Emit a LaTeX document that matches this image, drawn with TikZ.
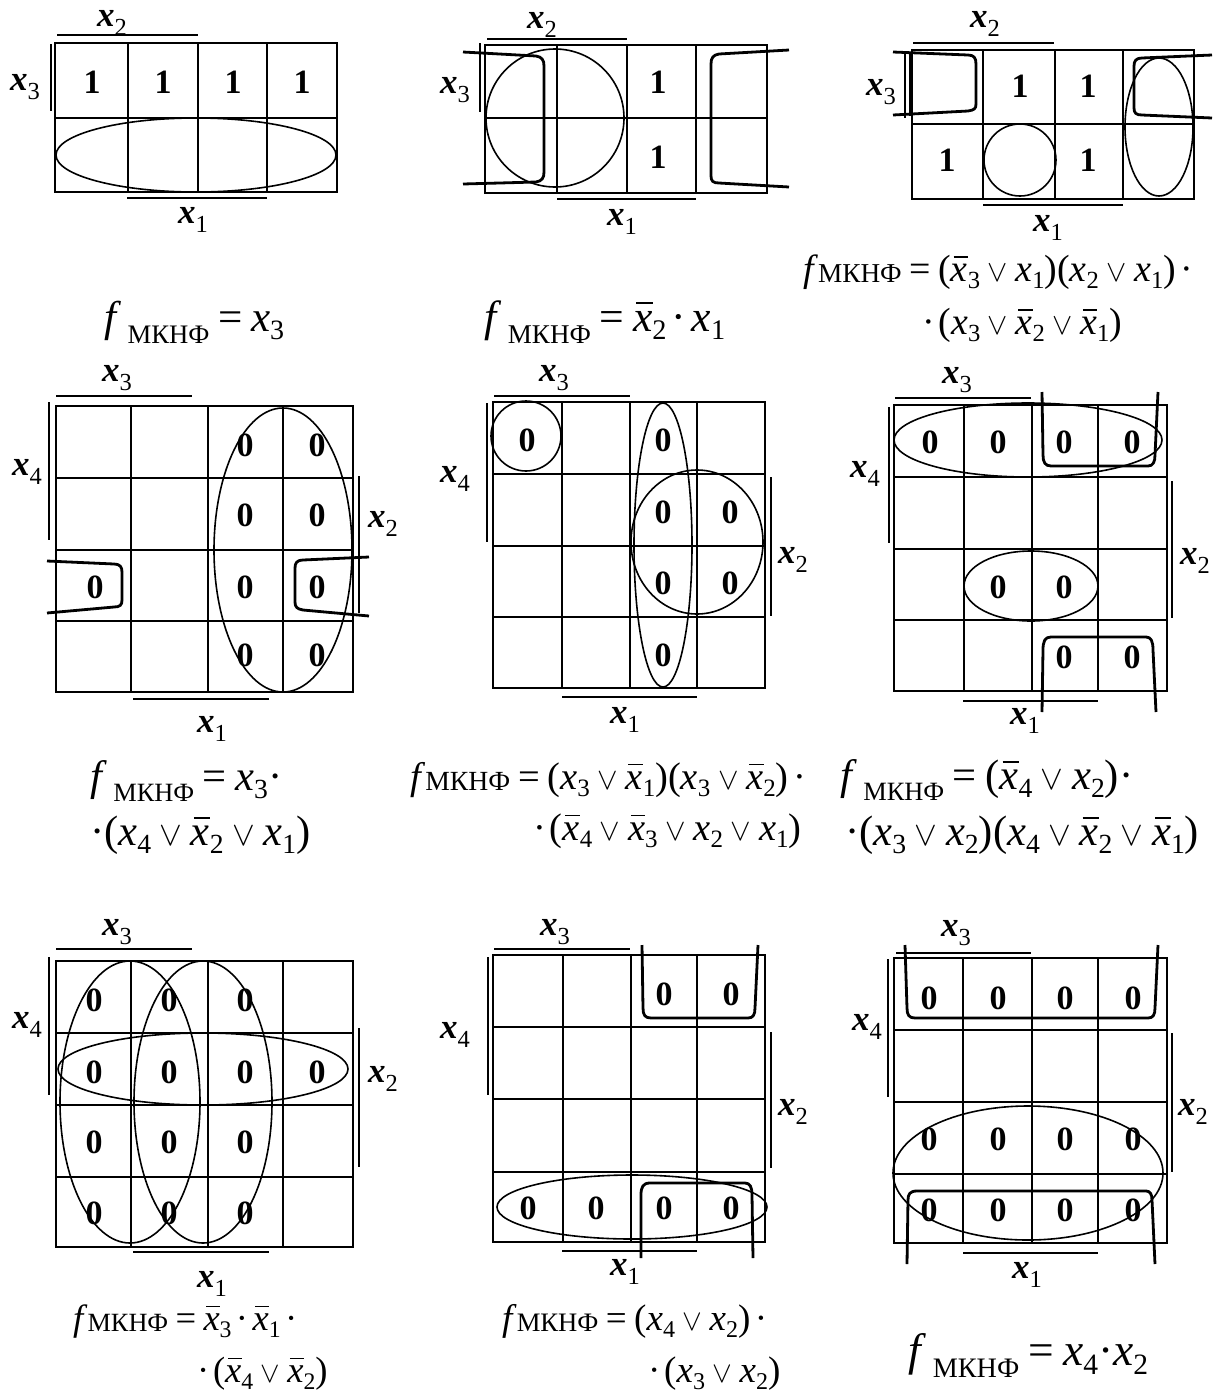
\documentclass[tikz,border=0pt]{standalone}
\usepackage{fontspec}
\setmainfont{Liberation Serif}
\usepackage{graphicx}
\newsavebox\fmlbox
\newlength\fmlw
\newcommand\sbs[1]{\raisebox{-0.2em}{\scalebox{0.65}{#1}}}
\newcommand\vx[1]{\textit{x}\sbs{#1}}
\newcommand\nx[1]{\makebox[0pt][l]{\kern0.07em\rule[0.62em]{0.38em}{0.04em}}\textit{x}\sbs{#1}}
\newcommand\orr{\hspace{0.2em}\scalebox{3.2}{\fontsize{10}{12}\selectfont$\vee$}\hspace{0.2em}}
\newcommand\eqq{\hspace{0.2em}=\hspace{0.2em}}
\newcommand\dt{\hspace{0.12em}·\hspace{0.12em}}
\newcommand\dte{\hspace{0.12em}·}
\newcommand\fbig{\textit{f}\hspace{0.15em}\raisebox{-0.28em}{\scalebox{0.62}{МКНФ}}}
\newcommand\fsm{\textit{f}\raisebox{-0.03em}{\scalebox{0.72}{МКНФ}}}
\newcommand\setfac[2]{\sbox\fmlbox{\fontsize{40}{44}\selectfont #2}\fmlw=\wd\fmlbox
  \pgfmathsetmacro\tmpfac{#1/\fmlw}\global\let\fmlfac\tmpfac}
\newcommand\FS[1]{\scalebox{\fmlfac}{\fontsize{40}{44}\selectfont #1}}
\newcommand\FL[2]{\setfac{#1}{#2}\FS{#2}}
\newcommand\lx[1]{\textbf{\textit{x}}\raisebox{-0.25em}{\scalebox{0.7}{#1}}}
\newcommand\gridA[8]{%
  \draw[gridl] (#1,#6) rectangle (#5,#8);
  \draw[gridl] (#2,#6)--(#2,#8) (#3,#6)--(#3,#8) (#4,#6)--(#4,#8) (#1,#7)--(#5,#7);}
\newcommand\gridB[6]{%
  \foreach \xx in {#1} {\draw[gridl] (\xx,#5)--(\xx,#6);}
  \foreach \yy in {#2} {\draw[gridl] (#3,\yy)--(#4,\yy);}}
\tikzset{
  gridl/.style={line width=2pt, line cap=rect},
  ring/.style={line width=1.6pt},
  brk/.style={line width=2.8pt, line join=round},
  bar/.style={line width=1.8pt},
  lab/.style={font=\fontsize{35}{37}\selectfont, inner sep=0pt},
  val/.style={font=\fontsize{34}{36}\selectfont\bfseries, inner sep=0pt},
  fml/.style={anchor=base west, inner sep=0pt}
}
\begin{document}
\begin{tikzpicture}[x=1pt,y=-1pt]
\useasboundingbox (0,0) rectangle (1215,1398);
% ================= Panel 1 =================
\gridA{55}{128}{198}{267}{337}{43}{118}{192}
\foreach \xx [count=\i] in {92,163,233,302} \node[val] (p1v\i) at (\xx,82) {1};
\draw[ring] (196,155) ellipse [x radius=140, y radius=37];
\draw[bar] (57,35)--(198,35);
\node[lab] (p1x2) at (112,23) {\lx{2}};
\draw[bar] (51,44)--(51,111);
\node[lab] (p1x3) at (25,87) {\lx{3}};
\draw[bar] (127,198)--(267,198);
\node[lab] (p1x1) at (193,220) {\lx{1}};
\node[fml] (f1) at (104,331) {\FL{180}{\fbig\eqq\vx{3}}};
% ================= Panel 2 =================
\gridA{485}{557}{627}{696}{767}{45}{118}{193}
\node[val] (p2v1) at (658,82) {1};
\node[val] (p2v2) at (658,157) {1};
\draw[ring] (555,118) circle [radius=69];
\draw[bar] (487,39)--(627,39);
\node[lab] (p2x2) at (542,25) {\lx{2}};
\draw[bar] (480,43)--(480,112);
\node[lab] (p2x3) at (455,90) {\lx{3}};
\draw[bar] (557,199)--(696,199);
\node[lab] (p2x1) at (622,222) {\lx{1}};
\draw[brk] (463,52) -- (536,56) .. controls (542,57) and (544,60) .. (544,66) -- (544,172) .. controls (544,178) and (542,181) .. (536,182) -- (463,184);
\draw[brk] (789,50) -- (719,54) .. controls (713,55) and (711,58) .. (711,64) -- (711,176) .. controls (711,181) and (713,183) .. (719,183) -- (789,187);
\node[fml] (f2) at (484,331) {\FL{241}{\fbig\eqq\nx{2}\dt\vx{1}}};
% ================= Panel 3 =================
\gridA{912}{983}{1055}{1123}{1194}{50}{124}{199}
\node[val] (p3v1) at (1020,86) {1};
\node[val] (p3v2) at (1088,86) {1};
\node[val] (p3v3) at (947,160) {1};
\node[val] (p3v4) at (1088,160) {1};
\draw[ring] (1020,160) circle [radius=36];
\draw[ring] (1159,127) ellipse [x radius=34, y radius=69];
\draw[bar] (913,43)--(1054,43);
\node[lab] (p3x2) at (985,24) {\lx{2}};
\draw[bar] (905,52)--(905,118);
\draw[bar] (910,54)--(910,116);
\node[lab] (p3x3) at (881,92) {\lx{3}};
\draw[bar] (983,205)--(1123,205);
\node[lab] (p3x1) at (1048,228) {\lx{1}};
\draw[brk] (893,52) -- (968,55) .. controls (974,55) and (976,58) .. (976,64) -- (976,104) .. controls (976,109) and (974,110) .. (968,111) -- (893,115);
\draw[brk] (1212,55) -- (1142,58) .. controls (1136,58) and (1134,61) .. (1134,66) -- (1134,108) .. controls (1134,113) and (1136,115) .. (1142,115) -- (1212,118);
\node[fml] (f3a) at (803,281) {\FL{390}{\fsm\eqq(\nx{3}\orr\vx{1})(\vx{2}\orr\vx{1})\dte}};
\node[fml] (f3b) at (922,334) {\FS{·\hspace{0.1em}(\vx{3}\orr\nx{2}\orr\nx{1})}};
% ================= Panel 4 =================
\gridB{56,131,208,283,353}{406,478,550,621,692}{56}{353}{406}{692}
\foreach \xx/\yy [count=\i] in {245/445,317/445,245/515,317/515,245/587,317/587,245/655,317/655,95/587}
  \node[val] (p4v\i) at (\xx,\yy) {0};
\draw[ring] (283,550) ellipse [x radius=69, y radius=142];
\draw[brk] (47,561) -- (114,564) .. controls (120,564) and (122,567) .. (122,572) -- (122,600) .. controls (122,605) and (120,607) .. (114,607) -- (47,613);
\draw[brk] (369,557) -- (303,560) .. controls (297,560) and (295,563) .. (295,568) -- (295,602) .. controls (295,607) and (297,609) .. (303,610) -- (369,616);
\draw[bar] (56,396)--(192,396);
\node[lab] (p4x3) at (117,378) {\lx{3}};
\draw[bar] (49,402)--(49,540);
\node[lab] (p4x4) at (27,472) {\lx{4}};
\draw[bar] (359,476)--(359,613);
\node[lab] (p4x2) at (383,524) {\lx{2}};
\draw[bar] (133,699)--(269,699);
\node[lab] (p4x1) at (212,729) {\lx{1}};
\node[fml] (f4a) at (90,790) {\FL{192}{\fbig\eqq\vx{3}·}};
\node[fml] (f4b) at (90,845) {\FS{·(\vx{4}\orr\nx{2}\orr\vx{1})}};
% ================= Panel 5 =================
\gridB{493,562,630,697,765}{402,474,546,617,688}{493}{765}{402}{688}
\foreach \xx/\yy [count=\i] in {527/440,663/440,663/512,730/512,663/583,730/583,663/655}
  \node[val] (p5v\i) at (\xx,\yy) {0};
\draw[ring] (526,436) circle [radius=35];
\draw[ring] (663,545) ellipse [x radius=29, y radius=142];
\draw[ring] (697,542) ellipse [x radius=66, y radius=72];
\draw[bar] (494,396)--(630,396);
\node[lab] (p5x3) at (554,378) {\lx{3}};
\draw[bar] (487,403)--(487,542);
\node[lab] (p5x4) at (455,479) {\lx{4}};
\draw[bar] (771,477)--(771,616);
\node[lab] (p5x2) at (793,560) {\lx{2}};
\draw[bar] (562,697)--(697,697);
\node[lab] (p5x1) at (625,720) {\lx{1}};
\node[fml] (f5a) at (410,789) {\FL{396}{\fsm\eqq(\vx{3}\orr\nx{1})(\vx{3}\orr\nx{2})\dte}};
\node[fml] (f5b) at (533,840) {\FS{·\hspace{0.1em}(\nx{4}\orr\nx{3}\orr\vx{2}\orr\vx{1})}};
% ================= Panel 6 =================
\gridB{894,964,1032,1098,1167}{405,477,549,620,691}{894}{1167}{405}{691}
\foreach \xx/\yy [count=\i] in {930/442,998/442,1064/442,1132/442,998/587,1064/587,1064/657,1132/657}
  \node[val] (p6v\i) at (\xx,\yy) {0};
\draw[ring] (1028,440) ellipse [x radius=134, y radius=37];
\draw[ring] (1031,586) ellipse [x radius=67, y radius=35];
\draw[brk] (1042,392) -- (1043,455) .. controls (1043,462) and (1045,466) .. (1051,466) -- (1148,466) .. controls (1153,466) and (1155,462) .. (1155,455) -- (1158,392);
\draw[brk] (1042,712) -- (1043,650) .. controls (1043,641) and (1045,637) .. (1051,637) -- (1146,637) .. controls (1151,637) and (1153,641) .. (1153,650) -- (1156,712);
\draw[bar] (895,398)--(1031,398);
\node[lab] (p6x3) at (957,380) {\lx{3}};
\draw[bar] (889,407)--(889,543);
\node[lab] (p6x4) at (865,474) {\lx{4}};
\draw[bar] (1172,481)--(1172,618);
\node[lab] (p6x2) at (1195,561) {\lx{2}};
\draw[bar] (963,701)--(1098,701);
\node[lab] (p6x1) at (1025,721) {\lx{1}};
\node[fml] (f6a) at (840,789) {\FL{293}{\fbig\eqq(\nx{4}\orr\vx{2})·}};
\node[fml] (f6b) at (845,845) {\FS{·(\vx{3}\orr\vx{2})(\vx{4}\orr\nx{2}\orr\nx{1})}};
% ================= Panel 7 =================
\gridB{56,131,208,283,353}{961,1033,1105,1177,1247}{56}{353}{961}{1247}
\foreach \xx/\yy [count=\i] in {94/1000,169/1000,245/1000,94/1072,169/1072,245/1072,317/1072,94/1142,169/1142,245/1142,94/1213,169/1213,245/1213}
  \node[val] (p7v\i) at (\xx,\yy) {0};
\draw[ring] (130,1102) ellipse [x radius=70, y radius=141];
\draw[ring] (203,1102) ellipse [x radius=69, y radius=141];
\draw[ring] (203,1069) ellipse [x radius=145, y radius=36];
\draw[bar] (56,949)--(192,949);
\node[lab] (p7x3) at (117,932) {\lx{3}};
\draw[bar] (49,957)--(49,1095);
\node[lab] (p7x4) at (27,1025) {\lx{4}};
\draw[bar] (359,1028)--(359,1167);
\node[lab] (p7x2) at (383,1079) {\lx{2}};
\draw[bar] (133,1252)--(269,1252);
\node[lab] (p7x1) at (212,1284) {\lx{1}};
\node[fml] (f7a) at (73,1330) {\FL{224}{\fsm\eqq\nx{3}\dt\nx{1}\dte}};
\node[fml] (f7b) at (197,1382) {\FS{·\hspace{0.1em}(\nx{4}\orr\nx{2})}};
% ================= Panel 8 =================
\gridB{493,563,631,697,765}{955,1027,1099,1172,1242}{493}{765}{955}{1242}
\foreach \xx/\yy [count=\i] in {664/994,731/994,528/1208,596/1208,664/1208,731/1208}
  \node[val] (p8v\i) at (\xx,\yy) {0};
\draw[ring] (632,1207) ellipse [x radius=135, y radius=32];
\draw[brk] (642,945) -- (643,1008) .. controls (643,1015) and (645,1018) .. (651,1018) -- (748,1018) .. controls (753,1018) and (755,1015) .. (755,1008) -- (758,945);
\draw[brk] (641,1258) -- (641,1195) .. controls (641,1187) and (643,1183) .. (650,1183) -- (745,1183) .. controls (750,1183) and (752,1187) .. (752,1195) -- (753,1258);
\draw[bar] (494,949)--(630,949);
\node[lab] (p8x3) at (555,932) {\lx{3}};
\draw[bar] (488,957)--(488,1095);
\node[lab] (p8x4) at (455,1035) {\lx{4}};
\draw[bar] (771,1032)--(771,1168);
\node[lab] (p8x2) at (793,1112) {\lx{2}};
\draw[bar] (562,1251)--(697,1251);
\node[lab] (p8x1) at (625,1272) {\lx{1}};
\node[fml] (f8a) at (502,1330) {\FL{265}{\fsm\eqq(\vx{4}\orr\vx{2})\dte}};
\node[fml] (f8b) at (648,1382) {\FS{·\hspace{0.1em}(\vx{3}\orr\vx{2})}};
% ================= Panel 9 =================
\gridB{894,963,1032,1098,1167}{958,1030,1102,1174,1243}{894}{1167}{958}{1243}
\foreach \yy [count=\j] in {998,1139,1210}
  \foreach \xx [count=\i] in {929,998,1065,1133}
    \node[val] (p9v\j\i) at (\xx,\yy) {0};
\draw[ring] (1028,1173) ellipse [x radius=135, y radius=67];
\draw[brk] (905,945) -- (907,1008) .. controls (907,1015) and (909,1018) .. (915,1018) -- (1148,1018) .. controls (1153,1018) and (1155,1015) .. (1155,1008) -- (1158,945);
\draw[brk] (907,1264) -- (908,1200) .. controls (908,1194) and (910,1191) .. (917,1191) -- (1146,1191) .. controls (1150,1191) and (1152,1194) .. (1152,1200) -- (1155,1264);
\draw[bar] (896,953)--(1031,953);
\node[lab] (p9x3) at (956,933) {\lx{3}};
\draw[bar] (888,959)--(888,1097);
\node[lab] (p9x4) at (867,1027) {\lx{4}};
\draw[bar] (1172,1033)--(1172,1172);
\node[lab] (p9x2) at (1193,1112) {\lx{2}};
\draw[bar] (963,1253)--(1098,1253);
\node[lab] (p9x1) at (1027,1275) {\lx{1}};
\node[fml] (f9) at (908,1365) {\FL{240}{\fbig\eqq\vx{4}·\vx{2}}};
\end{tikzpicture}
\end{document}
